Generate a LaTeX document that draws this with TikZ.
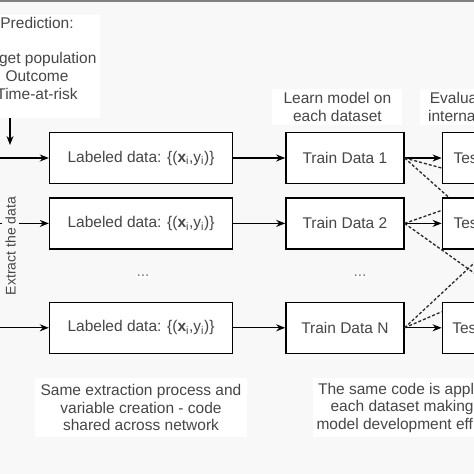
\documentclass[tikz,border=0pt]{standalone}
\usepackage{fontspec}
\setmainfont{Liberation Sans}
\usetikzlibrary{arrows.meta,positioning,calc}
\definecolor{fond}{RGB}{248,248,248}
\definecolor{texte}{RGB}{70,70,70}

\begin{document}
\begin{tikzpicture}[x=1pt, y=1pt, font=\fontsize{15.5}{17.6}\selectfont,
    databox/.style={draw, line width=1.4pt, fill=white, minimum height=51pt, text=texte},
    note/.style={fill=white, align=center, text=texte},
    flow/.style={-{Stealth[length=9pt,width=7pt]}, line width=1.3pt},
    cross/.style={dash pattern=on 3pt off 2pt, line width=1.3pt, black!85}]
    \useasboundingbox (0,0) rectangle (474,474);
    \clip (0,0) rectangle (474,474);
    \fill[fond] (0,0) rectangle (474,474);
    \fill[black!50] (0,472) rectangle (474,474);

    % Définition de la prédiction
    \node[fill=white, minimum width=126pt, minimum height=103pt] (predbox) at (37,407.5) {};
    \node[align=center, text=texte] (predtext) at (37,415.5) {Prediction:\\[17.3pt]Target population\\Outcome\\Time-at-risk};
    \coordinate (extractpt) at (10,329);

    % Données étiquetées
    \node[databox, minimum width=183pt] (lab1) at (141,316) {Labeled data: \{(\textbf{x}\textsubscript{i},y\textsubscript{i})\}};
    \node[databox, minimum width=183pt, below=13pt of lab1] (lab2) {Labeled data: \{(\textbf{x}\textsubscript{i},y\textsubscript{i})\}};
    \node[databox, minimum width=183pt, below=52pt of lab2] (labN) {Labeled data: \{(\textbf{x}\textsubscript{i},y\textsubscript{i})\}};

    % Apprentissage
    \node[databox, minimum width=118pt, right=52pt of lab1] (train1) {Train Data 1};
    \node[databox, minimum width=118pt, right=52pt of lab2] (train2) {Train Data 2};
    \node[databox, minimum width=118pt, right=52pt of labN] (trainN) {Train Data N};

    % Évaluation
    \node[databox, minimum width=101pt, right=37pt of train1] (test1) {Test Data 1};
    \node[databox, minimum width=101pt, right=37pt of train2] (test2) {Test Data 2};
    \node[databox, minimum width=101pt, right=37pt of trainN] (testN) {Test Data N};

    \node[fill=white, inner sep=1pt, text=black!55] (dotslab) at (143,198) {...};
    \node[fill=white, inner sep=1pt, text=black!55] (dotstrain) at (360,198) {...};

    % Notes
    \node[note, minimum width=130pt, minimum height=35pt, above=7pt of train1, xshift=-7.5pt] (learn) {Learn model on\\each dataset};
    \node[note, minimum width=102pt, minimum height=35pt, above=7pt of test1, xshift=-22pt] (evalnote) {Evaluate on\\internal data};
    \node[note, minimum width=212pt, minimum height=59pt, below=24pt of labN] (extractnote) {Same extraction process and\\variable creation - code\\shared across network};
    \node[note, minimum width=202pt, minimum height=59pt, anchor=west] (codenote) at (extractnote.east -| 313,0) {The same code is applied to\\each dataset making the\\model development efficient.};

    % Flèches
    \coordinate (src1) at ($(lab1.west)+(-55pt,0)$);
    \coordinate (src2) at ($(lab2.west)+(-55pt,0)$);
    \coordinate (srcN) at ($(labN.west)+(-55pt,0)$);
    \draw[flow] (predbox.south -| extractpt) -- (extractpt);
    \draw[flow] (src1) -- (lab1);
    \draw[flow] (src2) -- (lab2);
    \draw[flow] (srcN) -- (labN);
    \draw[flow] (lab1) -- (train1);
    \draw[flow] (lab2) -- (train2);
    \draw[flow] (labN) -- (trainN);
    \draw[flow] (train1) -- (test1);
    \draw[flow] (train2) -- (test2);
    \draw[flow] (trainN) -- (testN);
    \node[rotate=90, fill=fond, inner sep=3pt, text=texte, font=\fontsize{14}{16}\selectfont] (extract) at (10.5,228) {Extract the data};

    % Croisements en pointillés
    \coordinate (far2) at ($(train2.east)+(115pt,-82pt)$);
    \coordinate (farN) at ($(trainN.east)+(115pt,107pt)$);
    \draw[cross] (train1.east) -- ([yshift=-10pt]test1.west);
    \draw[cross] (train1.east) -- ([xshift=7pt]test2.north west);
    \draw[cross] (train2.east) -- ([yshift=13pt]test2.west);
    \draw[cross] (train2.east) -- (far2);
    \draw[cross] (trainN.east) -- (farN);
    \draw[cross] (trainN.east) -- ([yshift=16pt]testN.west);
\end{tikzpicture}
\end{document}
